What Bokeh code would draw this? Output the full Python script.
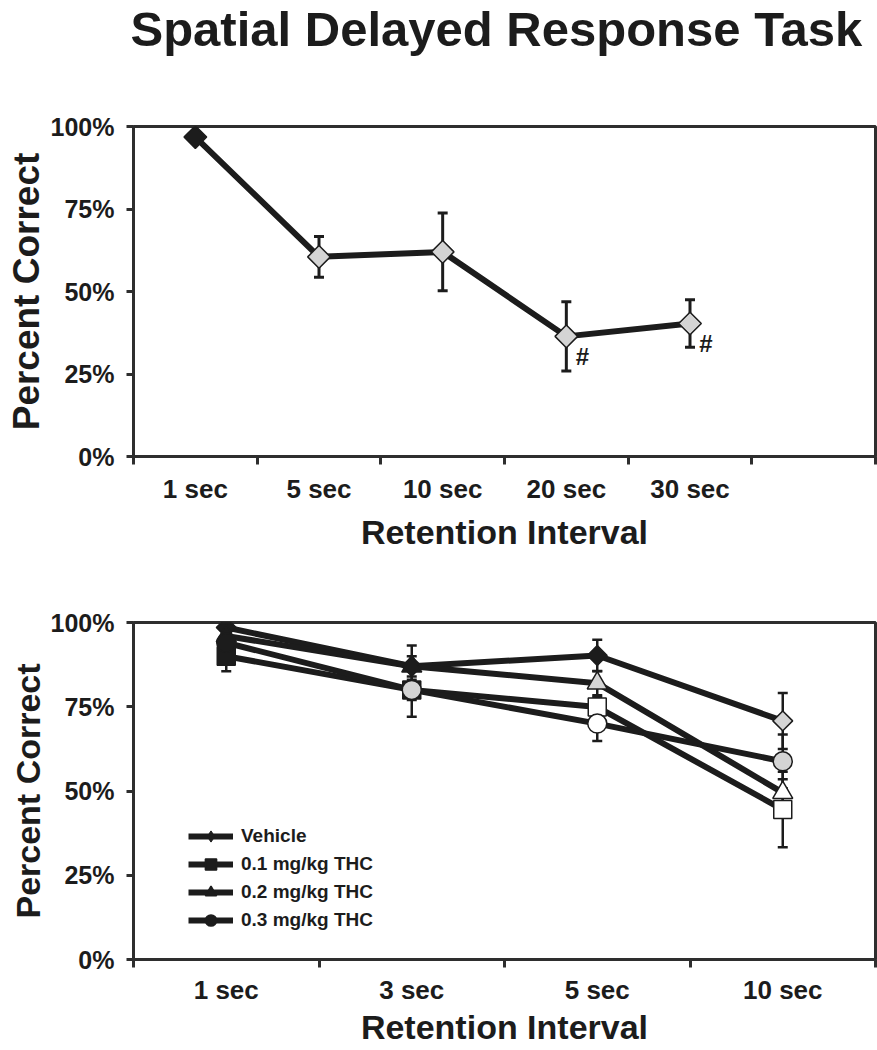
import numpy as np
from bokeh.plotting import figure
from bokeh.models import (ColumnDataSource, FactorRange, Range1d, LinearAxis, CategoricalAxis,
                          FixedTicker, PrintfTickFormatter, Whisker, TeeHead, Legend, LegendItem, Title)
from bokeh.layouts import column
from bokeh.embed import file_html
from bokeh.resources import INLINE
from bokeh.core.properties import value

FONT = "Liberation Sans"
DARK = "#1c1c1c"
AXIS = "#2e2e2e"
GRAY = "#d4d4d4"
WHITE = "#ffffff"

TITLE = "Spatial Delayed Response Task"
Y_LABEL = "Percent Correct"
X_LABEL = "Retention Interval"

# ---------------- data: top chart ----------------
top_intervals = ["1 sec", "5 sec", "10 sec", "20 sec", "30 sec"]
top_slots = top_intervals + [""]
top_mean = [96.8, 60.5, 62.0, 36.4, 40.3]
top_sem = [0.0, 6.2, 11.8, 10.5, 7.2]
top_sig = ["", "", "", "#", "#"]

# ---------------- data: bottom chart ----------------
bot_intervals = ["1 sec", "3 sec", "5 sec", "10 sec"]
series_names = ["Vehicle", "0.1 mg/kg THC", "0.2 mg/kg THC", "0.3 mg/kg THC"]
vehicle_mean = [98.5, 87.0, 90.2, 70.8]
vehicle_sem = [1.5, 3.0, 4.7, 8.3]
thc01_mean = [90.0, 80.0, 74.9, 44.5]
thc01_sem = [4.5, 8.0, 3.0, 11.2]
thc02_mean = [96.0, 87.0, 82.0, 49.5]
thc02_sem = [2.0, 6.2, 3.6, 4.0]
thc03_mean = [94.0, 80.0, 70.0, 58.8]
thc03_sem = [2.0, 3.0, 5.2, 8.0]

y_ticks = [0, 25, 50, 75, 100]

# styles (marker fills per point)
top_fill = [DARK, GRAY, GRAY, GRAY, GRAY]
vehicle_fill = [DARK, DARK, DARK, GRAY]
thc01_fill = [DARK, DARK, WHITE, WHITE]
thc02_fill = [DARK, DARK, GRAY, WHITE]
thc03_fill = [DARK, GRAY, WHITE, GRAY]


def base_fig(factors, height, min_top, min_bottom, ylab_size, xlab_standoff, tick_standoff):
    p = figure(x_range=FactorRange(factors=factors), y_range=Range1d(0, 100), title=None,
               width=877, height=height, output_backend="svg", toolbar_location=None,
               x_axis_location=None, min_border_left=133, min_border_right=2,
               min_border_top=min_top, min_border_bottom=min_bottom)
    p.background_fill_color = WHITE
    p.border_fill_color = WHITE
    p.grid.visible = False
    p.outline_line_color = AXIS
    p.outline_line_width = 3

    ya = p.yaxis[0]
    ya.ticker = FixedTicker(ticks=y_ticks)
    ya.formatter = PrintfTickFormatter(format="%d%%")
    ya.axis_line_width = 3
    ya.axis_line_color = AXIS
    ya.major_tick_line_width = 3
    ya.major_tick_line_color = AXIS
    ya.major_tick_out = 7
    ya.major_tick_in = 0
    ya.minor_tick_line_color = None
    ya.major_label_text_font = FONT
    ya.major_label_text_font_style = "bold"
    ya.major_label_text_font_size = "25px"
    ya.major_label_text_color = DARK
    ya.major_label_standoff = 12
    ya.axis_label = Y_LABEL
    ya.axis_label_text_font = FONT
    ya.axis_label_text_font_style = "bold"
    ya.axis_label_text_font_size = ylab_size
    ya.axis_label_text_color = DARK
    ya.axis_label_standoff = 1

    # boundary ticks between categories (synthetic coordinates of the factor range)
    n = len(factors)
    bax = LinearAxis(ticker=FixedTicker(ticks=list(range(n + 1))),
                     major_label_overrides={i: "" for i in range(n + 1)})
    bax.axis_line_width = 3
    bax.axis_line_color = AXIS
    bax.major_tick_line_width = 3
    bax.major_tick_line_color = AXIS
    bax.major_tick_out = 8
    bax.major_tick_in = 0
    bax.minor_tick_line_color = None
    bax.major_label_text_font_size = "1px"
    bax.major_label_standoff = 0
    p.add_layout(bax, "below")

    cax = CategoricalAxis()
    cax.axis_line_color = None
    cax.major_tick_line_color = None
    cax.minor_tick_line_color = None
    cax.major_label_text_font = FONT
    cax.major_label_text_font_style = "bold"
    cax.major_label_text_font_size = "26px"
    cax.major_label_text_color = DARK
    cax.major_label_standoff = tick_standoff
    cax.axis_label = X_LABEL
    cax.axis_label_text_font = FONT
    cax.axis_label_text_font_style = "bold"
    cax.axis_label_text_font_size = "34px"
    cax.axis_label_text_color = DARK
    cax.axis_label_standoff = xlab_standoff
    p.add_layout(cax, "below")
    return p


def add_errors(p, xs, mean, sem, width):
    src = ColumnDataSource(dict(x=xs, upper=[m + e for m, e in zip(mean, sem)],
                                lower=[m - e for m, e in zip(mean, sem)]))
    w = Whisker(source=src, base="x", upper="upper", lower="lower",
                line_width=width, line_color=DARK,
                upper_head=TeeHead(size=10, line_width=width, line_color=DARK),
                lower_head=TeeHead(size=10, line_width=width, line_color=DARK))
    p.add_layout(w)


# ---------------- top figure ----------------
p1 = base_fig(top_slots, 554, 126, 98, "37px", 6, 3)
# blank spacer between the frame and the chart title (keeps the title at the page top)
p1.add_layout(Title(text=" ", text_font_size="10px", standoff=56), "above")
p1.add_layout(Title(text=TITLE, align="left", offset=-3, vertical_align="top", standoff=0,
                    text_font=FONT, text_font_style="bold", text_font_size="49px",
                    text_color=DARK), "above")

src_top = ColumnDataSource(dict(x=top_intervals, y=top_mean, fill=top_fill, sig=top_sig))
p1.line("x", "y", source=src_top, line_width=6, line_color=DARK)
add_errors(p1, top_intervals, top_mean, top_sem, 3)
p1.scatter("x", "y", source=src_top, marker="square", angle=np.pi / 4, size=16,
           fill_color="fill", line_color=DARK, line_width=1.5)
p1.text("x", "y", text="sig", source=src_top, x_offset=16, y_offset=20,
        text_align="center", text_baseline="middle", text_font=value(FONT),
        text_font_style="bold", text_font_size="24px", text_color=DARK)

# ---------------- bottom figure ----------------
p2 = base_fig(bot_intervals, 494, 68, 88, "34px", 0, 1)

bot_series = [
    ("Vehicle", vehicle_mean, vehicle_sem, vehicle_fill, "square", np.pi / 4, 14),
    ("0.2 mg/kg THC", thc02_mean, thc02_sem, thc02_fill, "triangle", 0.0, 20),
    ("0.1 mg/kg THC", thc01_mean, thc01_sem, thc01_fill, "square", 0.0, 18),
    ("0.3 mg/kg THC", thc03_mean, thc03_sem, thc03_fill, "circle", 0.0, 19),
]
renderers = {}
sources = {}
for name, mean, sem, fill, marker, ang, size in bot_series:
    src = ColumnDataSource(dict(x=bot_intervals, y=mean, fill=fill))
    sources[name] = src
    renderers[name] = [p2.line("x", "y", source=src, line_width=6, line_color=DARK)]
for name, mean, sem, fill, marker, ang, size in bot_series:
    add_errors(p2, bot_intervals, mean, sem, 2.5)
for name, mean, sem, fill, marker, ang, size in bot_series:
    sr = p2.scatter("x", "y", source=sources[name], marker=marker, angle=ang, size=size,
                    fill_color="fill", line_color=DARK, line_width=1.5)
    renderers[name].append(sr)

# legend swatch for Vehicle: a diamond symbol (legend swatches ignore marker angle)
proxy_src = ColumnDataSource(dict(x=bot_intervals[:1], y=[float("nan")]))
vehicle_swatch = p2.scatter("x", "y", source=proxy_src, marker="diamond", size=16,
                            fill_color=DARK, line_color=DARK)
renderers["Vehicle"] = [renderers["Vehicle"][0], vehicle_swatch]

items = [LegendItem(label=nm, renderers=renderers[nm], index=0) for nm in series_names]
legend = Legend(items=items, location=(55, 25), orientation="vertical",
                background_fill_alpha=0, border_line_color=None,
                label_text_font=FONT, label_text_font_style="bold",
                label_text_font_size="19px", label_text_color=DARK,
                glyph_width=45, glyph_height=28, label_height=28, spacing=0,
                label_standoff=8, padding=0, margin=0)
p2.add_layout(legend)

layout = column(p1, p2, spacing=0)
open("out.html", "w").write(file_html(layout, INLINE))
